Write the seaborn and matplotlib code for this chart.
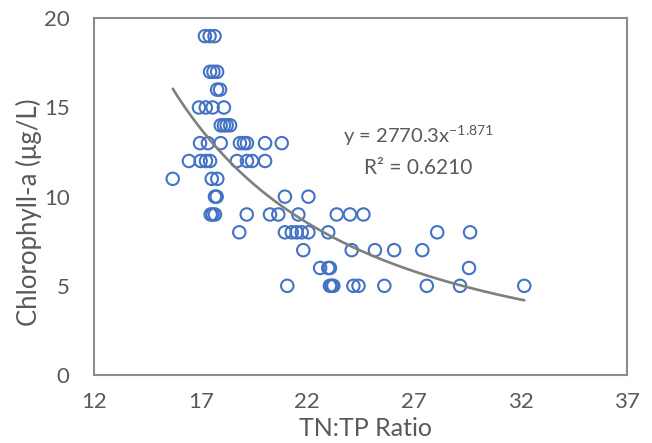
import matplotlib
matplotlib.use("Agg")
import matplotlib.pyplot as plt
import numpy as np
import pandas as pd
import seaborn as sns

# ---- data ----
tn_tp = [
    17.20, 17.42, 17.65,                                   # 19
    17.44, 17.60, 17.77,                                   # 17
    17.77, 17.91,                                          # 16
    16.92, 17.24, 17.56, 18.09,                            # 15
    17.94, 18.09, 18.22, 18.38,                            # 14
    16.97, 17.34, 17.94, 18.84, 19.03, 19.17, 20.02, 20.80,  # 13
    16.45, 17.00, 17.25, 17.44, 18.70, 19.17, 19.41, 20.02,  # 12
    15.69, 17.52, 17.78,                                   # 11
    17.67, 17.75, 20.95, 22.05,                            # 10
    17.47, 17.56, 17.67, 19.16, 20.25, 20.64, 21.58, 23.38, 24.00, 24.63,  # 9
    18.81, 20.95, 21.27, 21.50, 21.74, 22.05, 22.98, 28.09, 29.63,         # 8
    21.81, 24.08, 25.17, 26.07, 27.39,                     # 7
    22.60, 22.98, 23.06, 29.58,                            # 6
    21.06, 23.06, 23.14, 23.22, 24.16, 24.40, 25.61, 27.60, 29.16, 32.17,  # 5
]
chl_a = (
    [19] * 3 + [17] * 3 + [16] * 2 + [15] * 4 + [14] * 4 + [13] * 8 + [12] * 8
    + [11] * 3 + [10] * 4 + [9] * 10 + [8] * 9 + [7] * 5 + [6] * 4 + [5] * 10
)

# power trendline coefficients shown on the chart
trend_a = 2770.3
trend_b = -1.871

x_ticks = [12, 17, 22, 27, 32, 37]
y_ticks = [0, 5, 10, 15, 20]

df = pd.DataFrame({"TN:TP": tn_tp, "Chl": chl_a})
xs = np.linspace(min(tn_tp), max(tn_tp), 200)
trend = pd.DataFrame({"x": xs, "y": trend_a * xs ** trend_b})

# ---- styling ----
sns.set_theme(style="white")
plt.rcParams["font.family"] = ["Lato", "DejaVu Sans"]
plt.rcParams["mathtext.default"] = "regular"

grey_txt = "#595959"
axis_col = "#8c8c8c"
blue = "#4472C4"

fig = plt.figure(figsize=(6.52, 4.43), dpi=100)
ax = fig.add_axes([94 / 652, 1 - 375 / 443, (627.3 - 94) / 652, (375 - 18.3) / 443])

sns.lineplot(data=trend, x="x", y="y", ax=ax, color="#7f7f7f", linewidth=1.9, zorder=3)
sns.scatterplot(data=df, x="TN:TP", y="Chl", ax=ax, marker="o", s=80,
                facecolor="none", edgecolor=blue, linewidth=1.5, zorder=2)

ax.set_xlim(12, 37)
ax.set_ylim(0, 20)
ax.set_xticks(x_ticks)
ax.set_yticks(y_ticks)
ax.tick_params(axis="both", direction="inout", length=11, width=1.2,
               color=axis_col, labelcolor=grey_txt, labelsize=16)
ax.tick_params(axis="x", pad=7)
ax.tick_params(axis="y", pad=12)
for side in ["left", "bottom", "top", "right"]:
    ax.spines[side].set_color(axis_col)
    ax.spines[side].set_linewidth(1.5)

ax.set_xlabel("TN:TP Ratio", fontsize=18, color=grey_txt)
ax.set_ylabel("Chlorophyll-a (μg/L)", fontsize=18.5, color=grey_txt)
ax.xaxis.set_label_coords(0.51, -0.118)
ax.yaxis.set_label_coords(-0.098, 0.457)

ax.text(27.2, 13.4, "y = 2770.3x$^{-1.871}$", fontsize=14.5, color=grey_txt,
        ha="center", va="center")
ax.text(27.2, 11.6, "R² = 0.6210", fontsize=15, color=grey_txt,
        ha="center", va="center")

fig.savefig("out.png", dpi=100)
